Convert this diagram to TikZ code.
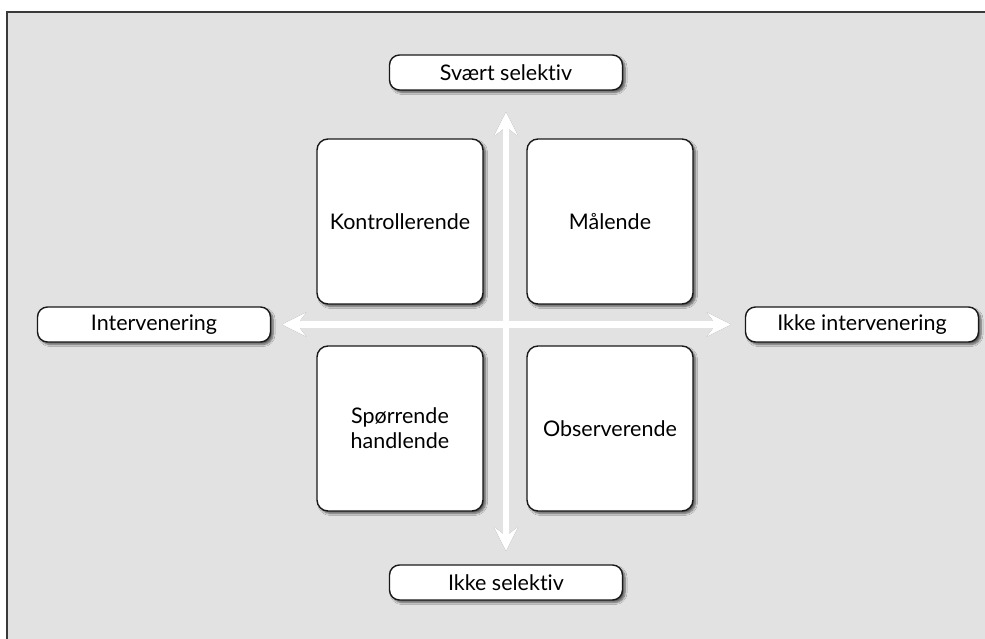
\documentclass[tikz,border=0pt]{standalone}
\usepackage{fontspec}
\setmainfont{Lato}[Ligatures=NoCommon]
\usetikzlibrary{arrows.meta,shadows.blur}
\definecolor{panel}{HTML}{E2E2E2}
\definecolor{frameline}{HTML}{3A3A3A}
\begin{document}
\begin{tikzpicture}[x=1pt,y=-1pt,
  labelfont/.style={font=\fontsize{21.5}{25}\selectfont},
  boxshadow/.style={blur shadow={shadow xshift=2.5pt,shadow yshift=-2.5pt,shadow blur steps=6,shadow opacity=60}},
  quadbox/.style={draw=black!90,line width=1.4pt,fill=white,rounded corners=11pt,
    minimum width=166pt,minimum height=165pt,align=center,labelfont,boxshadow},
  axislabel/.style={draw=black!90,line width=1.4pt,fill=white,rounded corners=10pt,
    minimum width=233pt,minimum height=35pt,inner sep=0pt,labelfont,boxshadow},
  axistips/.style={>={Stealth[length=24pt,width=24pt,inset=9pt]},<->},
  axisshadow/.style={line width=6.5pt,draw=black!65,opacity=0.8,axistips},
  axisline/.style={line width=6.5pt,draw=white,axistips}]
\useasboundingbox (0,0) rectangle (985,639);
% panel with its top and left edges drawn
\fill[panel] (7,12) rectangle (985,639);
\draw[frameline,line width=1.6pt] (7,639) -- (7,12) -- (985,12);

% quadrant boxes
\node[quadbox] (ctrl) at (400,221.5) {Kontrollerende};
\node[quadbox] (meas) at (610,221.5) {Målende};
\node[quadbox] (ask)  at (400,428.5) {Spørrende\\handlende};
\node[quadbox] (obs)  at (610,428.5) {Observerende};

% axis end labels
\node[axislabel] (top)    at (506,72.5)  {Svært selektiv};
\node[axislabel] (bottom) at (506,582.5) {Ikke selektiv};
\node[axislabel] (left)   at (154,324.5) {Intervenering};
\node[axislabel] (right)  at (862,324.5) {Ikke intervenering};

% axis arrow end points
\coordinate (vtop) at (506,112);
\coordinate (vbot) at (506,551);
\coordinate (hleft) at (282,324.5);
\coordinate (hright) at (731,324.5);

% arrows: shadow first, then white body
\begin{scope}[shift={(3,3)}]
  \draw[axisshadow] (vtop) -- (vbot);
  \draw[axisshadow] (hleft) -- (hright);
\end{scope}
\draw[axisline] (vtop) -- (vbot);
\draw[axisline] (hleft) -- (hright);
\end{tikzpicture}
\end{document}
